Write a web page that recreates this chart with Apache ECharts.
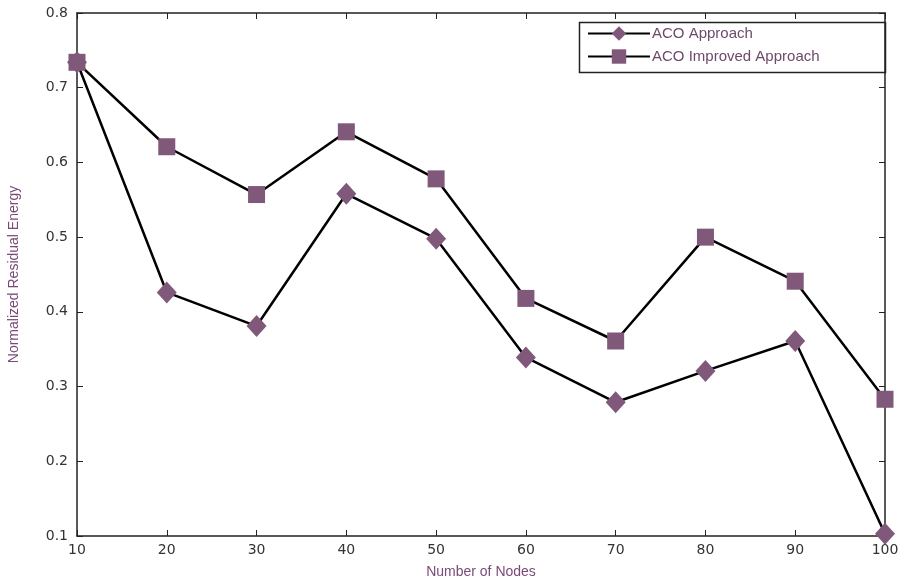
<!DOCTYPE html>
<html><head><meta charset="utf-8">
<script src="https://cdn.jsdelivr.net/npm/echarts@6/dist/echarts.min.js"></script>
<style>html,body{margin:0;padding:0;background:#fff}#c{width:903px;height:582px}</style>
</head><body><div id="c"></div>
<script>
const nodes = [10, 20, 30, 40, 50, 60, 70, 80, 90, 100];
const acoApproach = [0.734, 0.426, 0.381, 0.558, 0.498, 0.339, 0.279, 0.321, 0.361, 0.103];
const acoImproved = [0.734, 0.621, 0.557, 0.641, 0.578, 0.418, 0.361, 0.500, 0.441, 0.283];
const seriesNames = ['ACO Approach', 'ACO Improved Approach'];

const markerColor = '#80587a';
const labelFont = {color: '#333', fontSize: 14, fontFamily: 'DejaVu Sans, sans-serif'};
const chart = echarts.init(document.getElementById('c'));
const pair = arr => nodes.map((x, i) => [x, arr[i]]);
const boxAxis = {lineStyle: {color: '#222', width: 1.5}};
chart.setOption({
  animation: false,
  backgroundColor: '#fff',
  grid: {left: 77, right: 18, top: 13, bottom: 46, containLabel: false, outerBoundsMode: 'none'},
  legend: {
    left: 582, top: 24, padding: [2, 5, 2, 5], orient: 'vertical', align: 'left', itemGap: 8, itemWidth: 62, itemHeight: 18,
    textStyle: {color: '#6d4a6a', fontSize: 15, fontFamily: 'Liberation Sans, Arial, sans-serif', padding: [0, 0, 0, -3]},
    data: seriesNames
  },
  graphic: [{type: 'rect', left: 577, top: 20, shape: {width: 306, height: 50},
    style: {fill: 'none', stroke: '#222', lineWidth: 1.5}, z: 1}],
  xAxis: [{
    type: 'value', min: 10, max: 100, interval: 10,
    name: 'Number of Nodes', nameLocation: 'middle', nameGap: 29,
    nameTextStyle: {color: '#7a4a78', fontSize: 14, fontFamily: 'Liberation Sans, Arial, sans-serif'},
    axisLine: boxAxis, axisTick: {inside: true, length: 6, lineStyle: {color: '#222'}},
    axisLabel: Object.assign({margin: 7}, labelFont), splitLine: {show: false}
  }, {
    type: 'value', position: 'top', min: 10, max: 100, interval: 10,
    axisLine: boxAxis, axisTick: {inside: true, length: 6, lineStyle: {color: '#222'}},
    axisLabel: {show: false}, splitLine: {show: false}
  }],
  yAxis: [{
    type: 'value', min: 0.1, max: 0.8, interval: 0.1,
    name: 'Normalized Residual Energy', nameLocation: 'middle', nameGap: 56,
    nameTextStyle: {color: '#7a4a78', fontSize: 14, fontFamily: 'Liberation Sans, Arial, sans-serif'},
    axisLine: boxAxis, axisTick: {inside: true, length: 6, lineStyle: {color: '#222'}},
    axisLabel: Object.assign({margin: 9, formatter: v => v.toFixed(1)}, labelFont), splitLine: {show: false}
  }, {
    type: 'value', position: 'right', min: 0.1, max: 0.8, interval: 0.1,
    axisLine: boxAxis, axisTick: {inside: true, length: 6, lineStyle: {color: '#222'}},
    axisLabel: {show: false}, splitLine: {show: false}
  }],
  series: [{
    name: seriesNames[0], type: 'line', data: pair(acoApproach),
    symbol: 'diamond', symbolSize: [20, 22],
    lineStyle: {color: '#000', width: 2.5}, itemStyle: {color: markerColor}, z: 3
  }, {
    name: seriesNames[1], type: 'line', data: pair(acoImproved),
    symbol: 'rect', symbolSize: 17,
    lineStyle: {color: '#000', width: 2.5}, itemStyle: {color: markerColor}, z: 3
  }]
});
</script></body></html>
